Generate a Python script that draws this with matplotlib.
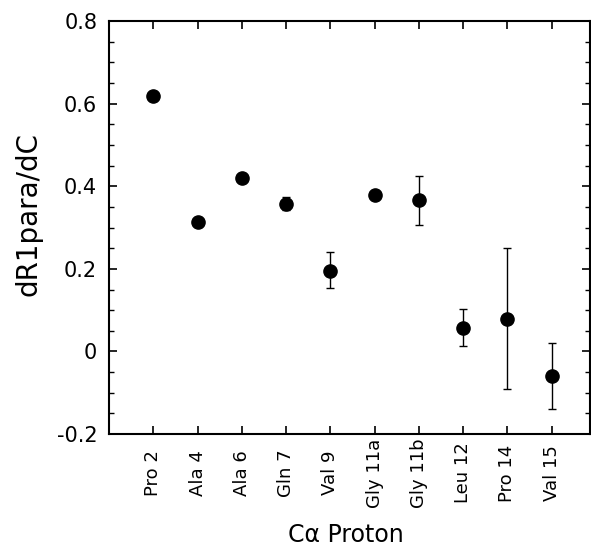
import matplotlib
matplotlib.use('Agg')
import matplotlib.pyplot as plt
from matplotlib.ticker import MultipleLocator

residues = ["Pro 2", "Ala 4", "Ala 6", "Gln 7", "Val 9",
            "Gly 11a", "Gly 11b", "Leu 12", "Pro 14", "Val 15"]
slope = [0.618, 0.314, 0.421, 0.358, 0.196, 0.378, 0.366, 0.058, 0.079, -0.060]
err_lo = [0.0, 0.0, 0.0, 0.015, 0.043, 0.010, 0.060, 0.045, 0.170, 0.080]
err_hi = [0.0, 0.0, 0.0, 0.015, 0.044, 0.010, 0.060, 0.045, 0.172, 0.080]
ytick_vals = [-0.2, 0, 0.2, 0.4, 0.6, 0.8]
ytick_text = ["-0.2", "0", "0.2", "0.4", "0.6", "0.8"]

fig = plt.figure(figsize=(5.91, 5.46), dpi=100)
ax = fig.add_axes([0.1844, 0.205, 0.8136, 0.7565])

xpos = list(range(1, len(residues) + 1))
ax.errorbar(xpos, slope, yerr=[err_lo, err_hi], fmt='o', color='black',
            markersize=9.5, elinewidth=1.0, capsize=3, capthick=1.0)

ax.set_xlim(0, 10.86)
ax.set_ylim(-0.2, 0.8)
ax.set_xticks(xpos)
ax.set_xticklabels(residues, rotation=90, ha='center', va='center', fontsize=13)
ax.set_yticks(ytick_vals)
ax.set_yticklabels(ytick_text, fontsize=15)
ax.yaxis.set_minor_locator(MultipleLocator(0.05))

ax.tick_params(axis='x', which='major', direction='in', length=6, width=1.2,
               top=True, pad=28)
ax.tick_params(axis='y', which='major', direction='in', length=6, width=1.2,
               right=True, pad=8.5)
ax.tick_params(axis='y', which='minor', direction='in', length=3.5, width=1.0,
               right=True)
for s in ax.spines.values():
    s.set_linewidth(1.5)

# axis titles placed in figure pixels to match the original
fig.text(29 / 591, 1 - 214 / 546, "dR1para/dC", rotation=90,
         ha='center', va='center', fontsize=20)
fig.text(346 / 591, 1 - 535 / 546, "C\u03b1 Proton",
         ha='center', va='center', fontsize=17)

fig.savefig("out.png", dpi=100)
